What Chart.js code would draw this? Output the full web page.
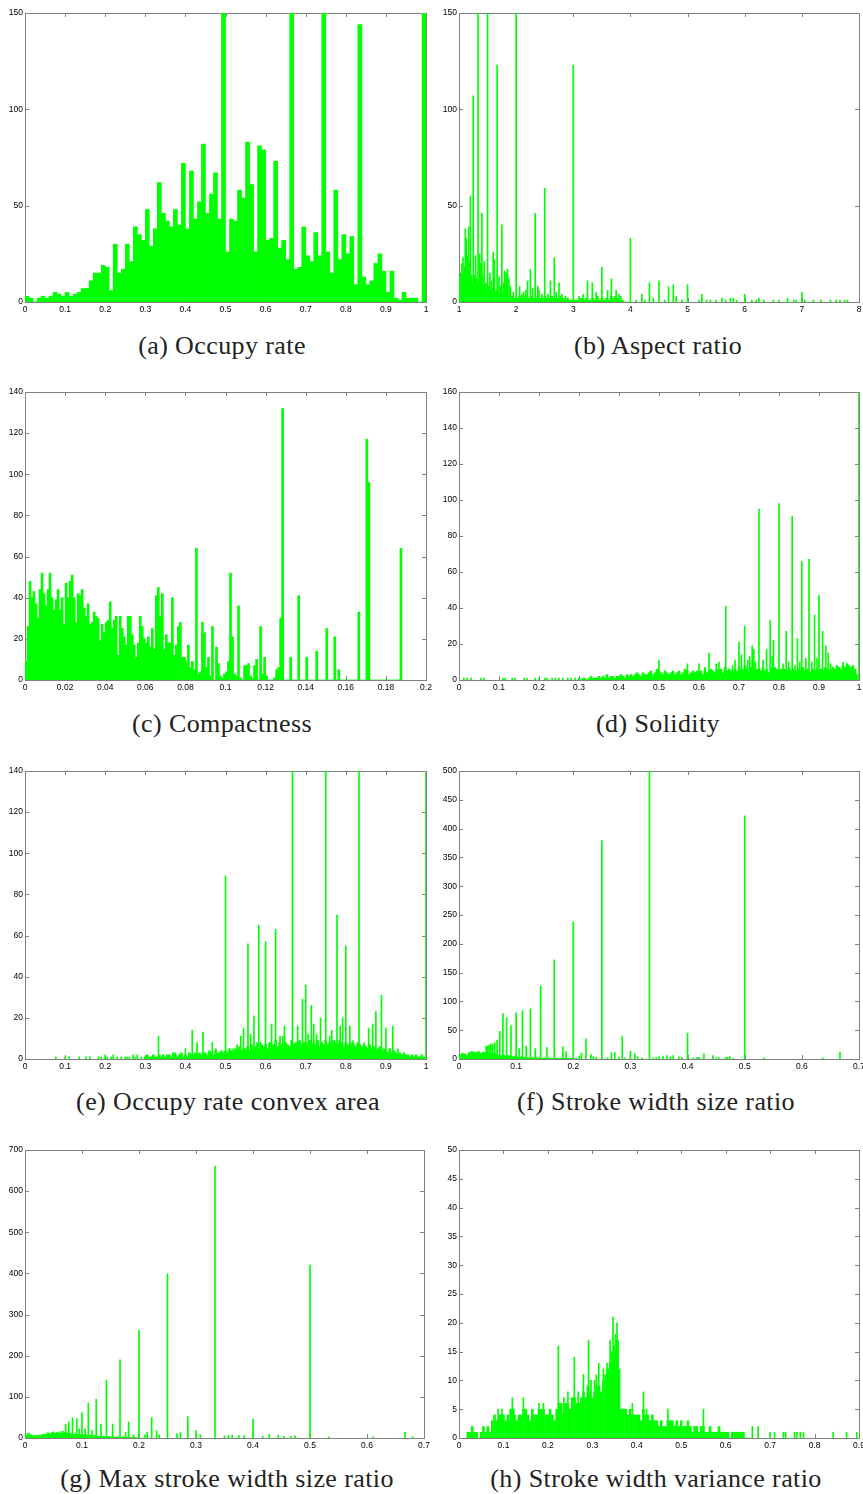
<!DOCTYPE html>
<html>
<head>
<meta charset="utf-8">
<script src="https://cdn.jsdelivr.net/npm/chart.js@4.4.0/dist/chart.umd.min.js"></script>
<style>
  html, body {
    margin: 0;
    padding: 0;
    background: #fff;
    width: 863px;
    height: 1494px;
    overflow: hidden;
    position: relative;
  }
  .caption {
    position: absolute;
    font-family: 'Liberation Serif', 'Times New Roman', serif;
    font-size: 26px;
    line-height: 26px;
    letter-spacing: 0.4px;
    color: #222;
    white-space: nowrap;
    transform: translateX(-50%);
  }
</style>
</head>
<body>
<div class="caption" style="left:222px;top:333px">(a) Occupy rate</div>
<div class="caption" style="left:658px;top:333px">(b) Aspect ratio</div>
<div class="caption" style="left:222px;top:711px">(c) Compactness</div>
<div class="caption" style="left:658px;top:711px">(d) Solidity</div>
<div class="caption" style="left:228px;top:1089px">(e) Occupy rate convex area</div>
<div class="caption" style="left:656px;top:1089px">(f) Stroke width size ratio</div>
<div class="caption" style="left:227px;top:1466px">(g) Max stroke width size ratio</div>
<div class="caption" style="left:656px;top:1466px">(h) Stroke width variance ratio</div>
<script>
// ---- data ----

// (a) occupy rate: 100 bins of 0.01 between 0 and 1
const occupyBinStart = 0.005, occupyBinStep = 0.01;
const occupyCounts = [
  3, 2, 0, 2, 3, 2, 3, 5, 4, 3,
  5, 3, 4, 5, 7, 7, 11, 15, 15, 19,
  18, 6, 30, 15, 17, 30, 21, 39, 35, 32,
  48, 29, 38, 62, 46, 42, 39, 48, 40, 72,
  38, 68, 43, 52, 82, 46, 56, 67, 43, 180,
  26, 43, 42, 58, 54, 83, 61, 26, 81, 79,
  32, 33, 73, 28, 32, 22, 180, 17, 18, 39,
  24, 21, 36, 24, 180, 26, 15, 58, 22, 35,
  25, 34, 9, 144, 13, 9, 11, 20, 25, 16,
  5, 16, 2, 1, 5, 2, 2, 2, 0, 180
];

// (b) aspect ratio
const aspectGrassStart = 1.02, aspectGrassStep = 0.04;
const aspectGrass = [
  13, 15, 18, 14, 12, 10, 9, 11, 9, 8,
  9, 7, 8, 6, 7, 5, 6, 5, 4, 5,
  4, 4, 3, 3, 2, 2, 3, 2, 3, 2,
  2, 3, 2, 2, 3, 2, 2, 3, 2, 2,
  3, 2, 2, 2, 3, 2, 1, 2, 1, 1,
  1, 1, 1, 2, 1, 2, 1, 1, 2, 1,
  2, 1, 2, 1, 2, 1, 3, 2, 3, 2,
  1, 1, 0, 0, 0
];
const aspectSpikes = [
  [1.03, 15], [1.05, 20], [1.07, 23], [1.09, 15], [1.11, 38], [1.13, 33], [1.15, 24], [1.17, 39],
  [1.19, 21], [1.2, 55], [1.22, 14], [1.25, 107], [1.27, 14], [1.29, 24], [1.31, 12], [1.333, 200],
  [1.36, 25], [1.38, 20], [1.4, 46], [1.42, 13], [1.44, 21], [1.47, 10], [1.5, 200], [1.52, 8],
  [1.54, 15], [1.57, 11], [1.6, 26], [1.62, 22], [1.667, 123], [1.7, 13], [1.72, 8], [1.75, 40],
  [1.78, 10], [1.8, 16], [1.82, 15], [1.83, 14], [1.85, 17], [1.875, 12], [1.9, 8], [1.95, 5],
  [2, 180], [2.06, 8], [2.1, 4], [2.13, 5], [2.17, 6], [2.2, 11], [2.25, 17], [2.29, 7],
  [2.333, 46], [2.38, 8], [2.4, 6], [2.45, 4], [2.5, 59], [2.56, 4], [2.6, 11], [2.667, 23],
  [2.7, 5], [2.75, 10], [2.8, 4], [2.86, 3], [3, 123], [3.1, 3], [3.17, 4], [3.25, 11],
  [3.333, 10], [3.4, 5], [3.43, 3], [3.5, 18], [3.6, 6], [3.667, 12], [3.75, 6], [3.8, 4],
  [3.83, 3], [4, 33], [4.1, 1], [4.2, 4], [4.25, 1], [4.333, 10], [4.4, 2], [4.5, 11],
  [4.6, 1], [4.667, 8], [4.75, 9], [4.8, 3], [4.9, 1], [5, 9], [5.2, 1], [5.25, 4],
  [5.333, 1], [5.4, 1], [5.5, 1], [5.6, 2], [5.667, 1], [5.75, 2], [5.8, 2], [5.857, 1],
  [6, 4], [6.125, 1], [6.2, 1], [6.25, 2], [6.333, 1], [6.5, 1], [6.6, 1], [6.75, 2],
  [6.857, 1], [6.9, 1], [7, 5], [7.05, 1], [7.2, 1], [7.333, 1], [7.5, 1], [7.6, 1],
  [7.667, 1], [7.75, 1], [7.8, 1]
];

// (c) compactness: bins of 0.001 from 0
const compactBinStart = 0.0005, compactBinStep = 0.001;
const compactCounts = [
  9, 26, 48, 40, 43, 37, 30, 44, 52, 42,
  36, 44, 52, 40, 34, 39, 44, 34, 40, 27,
  47, 40, 48, 51, 40, 28, 42, 41, 44, 35,
  31, 37, 27, 28, 33, 31, 30, 19, 27, 23,
  28, 29, 38, 25, 29, 31, 12, 31, 25, 21,
  17, 31, 31, 22, 17, 11, 18, 31, 26, 20,
  18, 21, 16, 25, 15, 41, 45, 31, 42, 15,
  22, 18, 18, 40, 12, 17, 26, 28, 11, 11,
  9, 17, 6, 9, 5, 64, 3, 4, 28, 23,
  6, 11, 2, 26, 0, 16, 8, 2, 1, 3,
  4, 9, 52, 21, 3, 2, 36, 1, 0, 7,
  7, 8, 2, 1, 7, 10, 0, 26, 3, 11,
  2, 0, 0, 0, 1, 5, 6, 30, 132, 0,
  0, 0, 11, 0, 0, 0, 41, 0, 0, 0,
  11, 0, 0, 0, 0, 14, 0, 0, 0, 0,
  25, 0, 0, 0, 21, 0, 5, 0, 0, 0,
  0, 0, 0, 0, 0, 0, 33, 0, 0, 0,
  117, 96, 0, 0, 0, 0, 0, 0, 0, 0,
  0, 0, 0, 0, 0, 0, 0, 64
];

// (d) solidity
const solidityGrassStart = 0.3, solidityGrassStep = 0.005;
const solidityGrass = [
  1, 0, 1, 1, 0, 1, 2, 1, 1, 1,
  2, 1, 2, 1, 3, 1, 2, 2, 1, 2,
  2, 3, 2, 1, 3, 2, 3, 2, 3, 4,
  3, 2, 4, 3, 3, 4, 5, 3, 4, 6,
  5, 4, 3, 5, 4, 3, 4, 5, 3, 4,
  5, 3, 4, 6, 5, 3, 4, 5, 4, 5,
  4, 5, 3, 6, 4, 5, 6, 5, 4, 6,
  5, 6, 4, 7, 5, 6, 5, 4, 6, 5,
  7, 5, 6, 8, 6, 5, 7, 6, 5, 6,
  6, 5, 7, 5, 6, 4, 6, 5, 7, 6,
  5, 6, 4, 6, 5, 7, 5, 6, 4, 5,
  6, 5, 7, 5, 6, 5, 4, 6, 5, 6,
  5, 6, 5, 7, 6, 5, 6, 7, 6, 8,
  7, 6, 8, 7, 9, 8, 7, 8, 6, 3
];
const soliditySpikes = [
  [0.012, 1], [0.02, 1], [0.03, 1], [0.055, 1], [0.062, 1], [0.11, 1], [0.115, 1], [0.133, 1],
  [0.14, 1], [0.163, 1], [0.17, 1], [0.19, 1], [0.2, 1], [0.215, 1], [0.22, 1], [0.233, 1],
  [0.24, 1], [0.25, 1], [0.26, 1], [0.272, 1], [0.28, 1], [0.29, 1],
  [0.5, 11], [0.571, 9], [0.6, 9], [0.615, 7], [0.625, 15], [0.643, 9], [0.65, 10], [0.667, 41],
  [0.684, 8], [0.69, 11], [0.7, 21], [0.706, 14], [0.714, 30], [0.722, 11], [0.727, 13], [0.733, 19],
  [0.737, 17], [0.741, 10], [0.75, 95], [0.76, 11], [0.769, 17], [0.778, 33], [0.783, 13], [0.786, 22],
  [0.8, 98], [0.81, 9], [0.818, 27], [0.824, 10], [0.833, 91], [0.84, 8], [0.846, 23], [0.852, 10],
  [0.857, 66], [0.867, 12], [0.875, 67], [0.882, 10], [0.889, 36], [0.895, 12], [0.9, 47], [0.909, 27],
  [0.917, 19], [0.923, 15], [0.929, 9], [0.96, 10], [0.97, 9], [1.0, 200]
];

// (e) occupy rate convex area
const convexGrassStart = 0.3, convexGrassStep = 0.005;
const convexGrass = [
  1, 2, 1, 1, 2, 1, 1, 2, 1, 2,
  1, 2, 2, 1, 3, 2, 1, 2, 3, 1,
  2, 1, 3, 2, 2, 3, 2, 3, 2, 3,
  3, 2, 4, 3, 2, 4, 3, 3, 4, 3,
  4, 3, 5, 4, 3, 5, 4, 6, 4, 5,
  5, 6, 4, 7, 5, 6, 8, 5, 7, 6,
  7, 5, 8, 6, 7, 9, 6, 8, 7, 6,
  8, 7, 6, 9, 7, 8, 6, 9, 7, 8,
  8, 6, 9, 7, 8, 7, 9, 6, 8, 7,
  9, 7, 8, 6, 9, 8, 7, 9, 8, 6,
  8, 7, 6, 8, 7, 6, 8, 7, 6, 7,
  6, 5, 7, 5, 6, 4, 5, 6, 4, 5,
  4, 3, 5, 3, 4, 3, 2, 3, 2, 3,
  2, 2, 1, 2, 1, 2, 1, 1, 2, 1
];
const convexSpikes = [
  [0.077, 1], [0.1, 1], [0.11, 1], [0.135, 1], [0.152, 1], [0.162, 1], [0.183, 1], [0.19, 1],
  [0.2, 2], [0.205, 1], [0.215, 1], [0.22, 2], [0.23, 1], [0.24, 1], [0.25, 1], [0.255, 1],
  [0.26, 1], [0.27, 2], [0.275, 1], [0.28, 2], [0.29, 1],
  [0.333, 11], [0.375, 3], [0.4, 5], [0.417, 14], [0.429, 8], [0.444, 13], [0.467, 8], [0.476, 5],
  [0.5, 89], [0.519, 5], [0.529, 7], [0.538, 11], [0.545, 15], [0.556, 56], [0.5625, 12], [0.571, 21],
  [0.583, 65], [0.588, 8], [0.6, 57], [0.615, 17], [0.625, 63], [0.636, 11], [0.643, 11], [0.647, 16],
  [0.667, 200], [0.68, 16], [0.692, 29], [0.7, 36], [0.706, 12], [0.714, 26], [0.72, 17], [0.727, 12],
  [0.737, 20], [0.75, 200], [0.76, 11], [0.765, 14], [0.778, 70], [0.786, 16], [0.792, 20], [0.8, 55],
  [0.81, 16], [0.818, 9], [0.833, 200], [0.846, 8], [0.857, 15], [0.867, 17], [0.875, 23], [0.889, 31],
  [0.9, 15], [0.917, 16], [0.93, 5], [1.0, 200]
];

// (f) stroke width size ratio
const strokeGrassStart = 0.002, strokeGrassStep = 0.004;
const strokeGrass = [
  8, 10, 9, 6, 11, 13, 12, 11, 13, 10,
  12, 11, 10, 9, 8, 10, 8, 7, 6, 7,
  5, 6, 5, 4, 5, 4, 3, 4, 3, 3,
  2, 3, 2, 3, 2, 2, 1, 2, 1, 2,
  1, 1, 2, 1, 1, 1, 2, 1, 1, 1
];
const strokeSpikes = [
  [0.0476, 22], [0.05, 23], [0.0526, 24], [0.0556, 26], [0.0588, 26], [0.0625, 28], [0.0667, 33], [0.0714, 48],
  [0.0769, 79], [0.0833, 72], [0.0909, 58], [0.1, 80], [0.1053, 18], [0.1111, 84], [0.1176, 22], [0.125, 87],
  [0.1333, 18], [0.1429, 127], [0.1538, 20], [0.1667, 172], [0.1818, 21], [0.1875, 13], [0.2, 238], [0.205, 2],
  [0.2105, 5], [0.2143, 10], [0.2222, 35], [0.2308, 8], [0.235, 4], [0.24, 3], [0.25, 379], [0.26, 2],
  [0.2667, 11], [0.2727, 11], [0.28, 3], [0.2857, 39], [0.29, 2], [0.3, 14], [0.3077, 9], [0.3125, 4],
  [0.32, 2], [0.3333, 600], [0.34, 2], [0.345, 3], [0.35, 4], [0.3571, 5], [0.3636, 6], [0.37, 4],
  [0.375, 6], [0.3846, 4], [0.39, 3], [0.4, 45], [0.41, 2], [0.4167, 3], [0.42, 3], [0.4286, 9],
  [0.4444, 6], [0.45, 2], [0.4545, 3], [0.4667, 3], [0.47, 3], [0.4737, 4], [0.48, 1], [0.5, 422],
  [0.5333, 2], [0.6364, 2], [0.6667, 12]
];

// (g) max stroke width size ratio
const maxStrokeGrassStart = 0.002, maxStrokeGrassStep = 0.004;
const maxStrokeGrass = [
  8, 12, 7, 6, 6, 7, 6, 8, 9, 10,
  11, 10, 12, 11, 13, 12, 11, 14, 12, 11,
  10, 9, 11, 8, 9, 7, 8, 6, 7, 5,
  6, 5, 4, 5, 4, 3, 4, 3, 3, 2,
  3, 2, 2, 3, 2, 2, 1, 2, 1, 1
];
const maxStrokeSpikes = [
  [0.04, 13], [0.0476, 14], [0.05, 15], [0.0556, 14], [0.0625, 16], [0.0667, 16], [0.0714, 33], [0.0769, 39],
  [0.0833, 49], [0.0909, 47], [0.0952, 22], [0.1, 61], [0.1053, 22], [0.1111, 85], [0.1176, 18], [0.125, 94],
  [0.1333, 34], [0.1429, 141], [0.1538, 34], [0.1667, 190], [0.1765, 14], [0.1818, 39], [0.1905, 8], [0.2, 262],
  [0.2105, 8], [0.2143, 14], [0.2222, 50], [0.2308, 18], [0.2353, 8], [0.25, 399], [0.2667, 11], [0.2727, 14],
  [0.2857, 52], [0.3, 18], [0.3077, 8], [0.3333, 661], [0.35, 5], [0.3571, 6], [0.3636, 7], [0.375, 6],
  [0.3846, 6], [0.4, 46], [0.4167, 4], [0.4286, 9], [0.4444, 7], [0.4545, 4], [0.4667, 4], [0.4737, 5],
  [0.5, 420], [0.5333, 3], [0.6111, 3], [0.6667, 14], [0.68, 3]
];

// (h) stroke width variance ratio
const varianceGrassStart = 0.02, varianceGrassStep = 0.005;
const varianceGrass = [
  1, 1, 2, 1, 1, 0, 1, 2, 1, 2,
  1, 3, 4, 3, 4, 4, 4, 3, 4, 3,
  5, 4, 3, 4, 4, 5, 5, 4, 3, 5,
  4, 4, 5, 5, 5, 4, 4, 5, 4, 3,
  5, 6, 6, 4, 6, 6, 5, 7, 7, 6,
  6, 7, 8, 7, 9, 8, 7, 8, 9, 9,
  8, 10, 11, 12, 13, 15, 16, 17, 12, 5,
  5, 5, 4, 5, 4, 4, 4, 4, 3, 5,
  4, 4, 3, 4, 3, 3, 2, 3, 2, 2,
  3, 3, 3, 2, 3, 2, 3, 2, 2, 3,
  2, 1, 2, 2, 1, 2, 2, 1, 1, 2,
  1, 1, 1, 2, 1, 1, 1, 1, 0, 1,
  1, 1, 1, 1, 1, 0, 0
];
const varianceSpikes = [
  [0.088, 5], [0.097, 5], [0.115, 5], [0.12, 7], [0.1235, 5], [0.145, 7], [0.18, 6], [0.19, 6],
  [0.2235, 16], [0.236, 7], [0.245, 8], [0.2595, 14], [0.268, 8], [0.28, 11], [0.2915, 17], [0.297, 10],
  [0.305, 10], [0.309, 11], [0.3145, 13], [0.325, 12], [0.333, 13], [0.34, 17], [0.3465, 21], [0.352, 18],
  [0.3555, 20], [0.358, 17], [0.39, 6], [0.415, 8], [0.422, 5], [0.47, 5], [0.55, 5], [0.66, 2],
  [0.673, 2], [0.7, 1], [0.71, 1], [0.73, 1], [0.735, 1], [0.755, 1], [0.76, 1], [0.768, 1],
  [0.775, 1], [0.842, 1], [0.872, 1], [0.895, 1]
];

// ---- drawing ----
Chart.defaults.font.family = "'Liberation Sans', Arial, sans-serif";

const GREEN = '#00ff00';
const Y_AXIS_W = 25, X_AXIS_H = 18, PAD_TOP = 10, PAD_RIGHT = 20;

const binsToPoints = (start, step, counts) => counts.map((n, i) => ({ x: start + i * step, y: n }));
const pairsToPoints = (pairs) => pairs.map(([x, n]) => ({ x, y: n }));

// box frame with inward ticks on all four sides, like the original plots
const framePlugin = {
  id: 'frame',
  beforeDatasetsDraw(chart) {
    const { ctx, chartArea: a } = chart;
    const xs = chart.scales.x, ys = chart.scales.y;
    ctx.save();
    ctx.strokeStyle = '#808080';
    ctx.lineWidth = 1;
    ctx.strokeRect(a.left + 0.5, a.top + 0.5, a.right - a.left, a.bottom - a.top);
    ctx.beginPath();
    xs.ticks.forEach(t => {
      const px = Math.round(xs.getPixelForValue(t.value)) + 0.5;
      ctx.moveTo(px, a.bottom); ctx.lineTo(px, a.bottom - 4);
      ctx.moveTo(px, a.top); ctx.lineTo(px, a.top + 4);
    });
    ys.ticks.forEach(t => {
      const py = Math.round(ys.getPixelForValue(t.value)) + 0.5;
      ctx.moveTo(a.left, py); ctx.lineTo(a.left + 4, py);
      ctx.moveTo(a.right, py); ctx.lineTo(a.right - 4, py);
    });
    ctx.stroke();
    ctx.restore();
  }
};

const fmt = v => String(+Number(v).toFixed(4));

function histChart(box, xRange, yRange, sets) {
  const w = Y_AXIS_W + (box.r - box.l) + PAD_RIGHT;
  const h = PAD_TOP + (box.b - box.t) + X_AXIS_H;
  const canvas = document.createElement('canvas');
  canvas.width = w;
  canvas.height = h;
  canvas.style.cssText = `position:absolute;left:${box.l - Y_AXIS_W}px;top:${box.t - PAD_TOP}px;width:${w}px;height:${h}px`;
  document.body.appendChild(canvas);

  const tickFont = { size: 8.5, family: "'Liberation Sans', Arial, sans-serif" };
  new Chart(canvas, {
    type: 'bar',
    data: {
      datasets: sets.map(s => ({
        data: s.data,
        backgroundColor: GREEN,
        borderWidth: 0,
        grouped: false,
        categoryPercentage: 1,
        barPercentage: 1,
        barThickness: s.thickness
      }))
    },
    options: {
      responsive: false,
      animation: false,
      events: [],
      layout: { padding: { top: PAD_TOP, right: PAD_RIGHT, left: 0, bottom: 0 } },
      plugins: { legend: { display: false }, tooltip: { enabled: false } },
      scales: {
        x: {
          type: 'linear',
          offset: false,
          min: xRange[0], max: xRange[1],
          grid: { display: false, drawTicks: false },
          border: { display: false },
          ticks: { stepSize: xRange[2], autoSkip: false, maxRotation: 0, padding: 3, font: tickFont, color: '#000', callback: fmt },
          afterFit(s) { s.height = X_AXIS_H; }
        },
        y: {
          min: 0, max: yRange[0],
          grid: { display: false, drawTicks: false },
          border: { display: false },
          ticks: { stepSize: yRange[1], padding: 2, font: tickFont, color: '#000', callback: fmt },
          afterFit(s) { s.width = Y_AXIS_W; }
        }
      }
    },
    plugins: [framePlugin]
  });
}

histChart({ l: 25, t: 13, r: 426, b: 302 }, [0, 1, 0.1], [150, 50], [
  { data: binsToPoints(occupyBinStart, occupyBinStep, occupyCounts) }
]);
histChart({ l: 459, t: 13, r: 859, b: 302 }, [1, 8, 1], [150, 50], [
  { data: binsToPoints(aspectGrassStart, aspectGrassStep, aspectGrass), thickness: 2 },
  { data: pairsToPoints(aspectSpikes), thickness: 1 }
]);
histChart({ l: 25, t: 392, r: 426, b: 680 }, [0, 0.2, 0.02], [140, 20], [
  { data: binsToPoints(compactBinStart, compactBinStep, compactCounts) }
]);
histChart({ l: 459, t: 392, r: 859, b: 680 }, [0, 1, 0.1], [160, 20], [
  { data: binsToPoints(solidityGrassStart, solidityGrassStep, solidityGrass), thickness: 2 },
  { data: pairsToPoints(soliditySpikes), thickness: 1 }
]);
histChart({ l: 25, t: 771, r: 426, b: 1059 }, [0, 1, 0.1], [140, 20], [
  { data: binsToPoints(convexGrassStart, convexGrassStep, convexGrass), thickness: 2 },
  { data: pairsToPoints(convexSpikes), thickness: 1 }
]);
histChart({ l: 459, t: 771, r: 859, b: 1059 }, [0, 0.7, 0.1], [500, 50], [
  { data: binsToPoints(strokeGrassStart, strokeGrassStep, strokeGrass), thickness: 2 },
  { data: pairsToPoints(strokeSpikes), thickness: 1 }
]);
histChart({ l: 25, t: 1150, r: 424, b: 1438 }, [0, 0.7, 0.1], [700, 100], [
  { data: binsToPoints(maxStrokeGrassStart, maxStrokeGrassStep, maxStrokeGrass), thickness: 2 },
  { data: pairsToPoints(maxStrokeSpikes), thickness: 1 }
]);
histChart({ l: 459, t: 1150, r: 859, b: 1438 }, [0, 0.9, 0.1], [50, 5], [
  { data: binsToPoints(varianceGrassStart, varianceGrassStep, varianceGrass), thickness: 2 },
  { data: pairsToPoints(varianceSpikes), thickness: 1 }
]);
</script>
</body>
</html>
